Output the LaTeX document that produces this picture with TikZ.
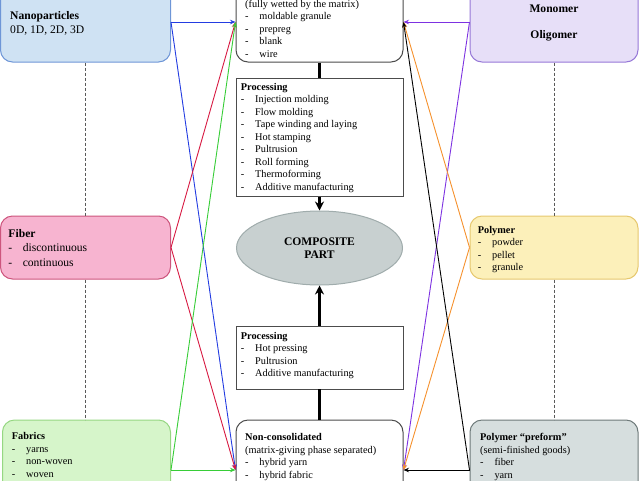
\documentclass[tikz,border=0pt]{standalone}
\usepackage{fontspec}
\setmainfont{Liberation Serif}
\usetikzlibrary{arrows.meta,shapes.geometric}

\definecolor{nanofill}{RGB}{207,226,243}
\definecolor{nanoline}{RGB}{110,150,215}
\definecolor{fibfill}{RGB}{247,180,208}
\definecolor{fibline}{RGB}{205,85,125}
\definecolor{fabfill}{RGB}{214,245,202}
\definecolor{fabline}{RGB}{150,215,130}
\definecolor{monofill}{RGB}{231,223,248}
\definecolor{monoline}{RGB}{150,120,215}
\definecolor{polyfill}{RGB}{252,240,186}
\definecolor{polyline}{RGB}{230,200,110}
\definecolor{prefill}{RGB}{214,222,222}
\definecolor{preline}{RGB}{110,122,122}
\definecolor{partfill}{RGB}{200,208,208}
\definecolor{partline}{RGB}{160,172,172}
\definecolor{cblue}{RGB}{35,60,225}
\definecolor{cred}{RGB}{215,25,65}
\definecolor{cgreen}{RGB}{55,205,55}
\definecolor{cpurple}{RGB}{125,50,225}
\definecolor{corange}{RGB}{245,145,45}

\newcommand{\petit}{\fontsize{10.3}{12.5}\selectfont}
\newcommand{\grand}{\fontsize{11.6}{14.4}\selectfont}
\newcommand{\tiret}[1]{\makebox[14.3pt][l]{-}#1}

\tikzset{
  boite/.style={draw, rounded corners=12pt, line width=1pt, inner sep=0pt},
  proc/.style={draw=black!70, fill=white, line width=0.9pt, inner sep=0pt},
  texte/.style={anchor=north west, align=left, inner sep=0pt},
  lien/.style={line width=0.9pt, -{Stealth[length=5.5pt,width=4.5pt]}},
  flux/.style={line width=2.8pt},
  pointille/.style={black!65, line width=0.8pt, dash pattern=on 3pt off 2pt},
}

\begin{document}
\begin{tikzpicture}[x=1pt,y=-1pt]

% Cadre
\useasboundingbox (0,0) rectangle (640,480);
\clip (0,0) rectangle (640,480);

% Boites de gauche
\node[boite, fill=nanofill, draw=nanoline, minimum width=170pt, minimum height=80pt] (nano) at (85.5,22) {};
\node[boite, fill=fibfill, draw=fibline, minimum width=170pt, minimum height=63pt] (fiber) at (85.5,247.5) {};
\node[boite, fill=fabfill, draw=fabline, minimum width=168pt, minimum height=100pt] (fabric) at (86.5,470) {};

% Boites de droite
\node[boite, fill=monofill, draw=monoline, minimum width=168pt, minimum height=80pt] (mono) at (554,22) {};
\node[boite, fill=polyfill, draw=polyline, minimum width=168pt, minimum height=63pt] (poly) at (554,247.5) {};
\node[boite, fill=prefill, draw=preline, minimum width=168pt, minimum height=100pt] (preform) at (554,470) {};

% Colonne centrale
\node[boite, draw=black!70, fill=white, minimum width=167pt, minimum height=80pt] (cons) at (319.5,22) {};
\node[proc, minimum width=167pt, minimum height=118.5pt] (proc1) at (319.5,137.25) {};
\node[ellipse, draw=partline, fill=partfill, line width=1pt, minimum width=166pt, minimum height=74pt,
  align=center, font={\fontsize{11.6}{13.3}\selectfont\bfseries}] (part) at (319.5,248) {COMPOSITE\\PART};
\node[proc, minimum width=167pt, minimum height=63pt] (proc2) at (319.5,357.5) {};
\node[boite, draw=black!70, fill=white, minimum width=167pt, minimum height=100pt] (noncons) at (319.5,470) {};

% Pointilles
\draw[pointille] (nano.south) -- (fiber.north);
\draw[pointille] (fiber.south) -- (fiber.south |- fabric.north);
\draw[pointille] (mono.south) -- (poly.north);
\draw[pointille] (poly.south) -- (preform.north);

% Textes
\node[texte, font=\grand] (nanotxt) at (10,11) {\textbf{Nanoparticles}\\0D, 1D, 2D, 3D};
\node[texte, font=\grand] (fibtxt) at (8.3,229) {\textbf{Fiber}\\\tiret{discontinuous}\\\tiret{continuous}};
\node[texte, font=\petit] (fabtxt) at (11.7,432.5) {\textbf{Fabrics}\\\tiret{yarns}\\\tiret{non-woven}\\\tiret{woven}};
\node[anchor=north, align=center, inner sep=0pt, font=\grand\bfseries] (monotxt) at (554,4.3) {Monomer\\[12.5pt]Oligomer};
\node[texte, font=\petit] (polytxt) at (477.7,225.7) {\textbf{Polymer}\\\tiret{powder}\\\tiret{pellet}\\\tiret{granule}};
\node[texte, font=\petit] (pretxt) at (480,433.2) {\textbf{Polymer “preform”}\\(semi-finished goods)\\\tiret{fiber}\\\tiret{yarn}};
\node[texte, font=\petit] (constxt) at (245,-0.3) {(fully wetted by the matrix)\\\tiret{moldable granule}\\\tiret{prepreg}\\\tiret{blank}\\\tiret{wire}};
\node[texte, font=\petit] (proc1txt) at (240.7,83) {\textbf{Processing}\\\tiret{Injection molding}\\\tiret{Flow molding}\\\tiret{Tape winding and laying}\\\tiret{Hot stamping}\\\tiret{Pultrusion}\\\tiret{Roll forming}\\\tiret{Thermoforming}\\\tiret{Additive manufacturing}};
\node[texte, font=\petit] (proc2txt) at (240.7,332) {\textbf{Processing}\\\tiret{Hot pressing}\\\tiret{Pultrusion}\\\tiret{Additive manufacturing}};
\node[texte, font=\petit] (noncontxt) at (245,433.2) {\textbf{Non-consolidated}\\(matrix-giving phase separated)\\\tiret{hybrid yarn}\\\tiret{hybrid fabric}};

% Flux central
\draw[flux] (cons.south) -- (proc1.north);
\draw[flux, -{Stealth[length=9pt,width=9pt]}] (proc1.south) -- (part.north);
\draw[flux, -{Stealth[length=9pt,width=9pt]}] (proc2.north) -- (part.south);
\draw[flux] (noncons.north) -- (proc2.south);

% Liens gauche
\foreach \src/\col in {nano/cblue, fiber/cred, fabric/cgreen}{
  \draw[lien, \col] (\src.east) -- (cons.west);
  \draw[lien, \col] (\src.east) -- (noncons.west);
}

% Liens droite
\foreach \src/\col in {mono/cpurple, poly/corange, preform/black}{
  \draw[lien, \col] (\src.west) -- (cons.east);
  \draw[lien, \col] (\src.west) -- (noncons.east);
}

\end{tikzpicture}
\end{document}
